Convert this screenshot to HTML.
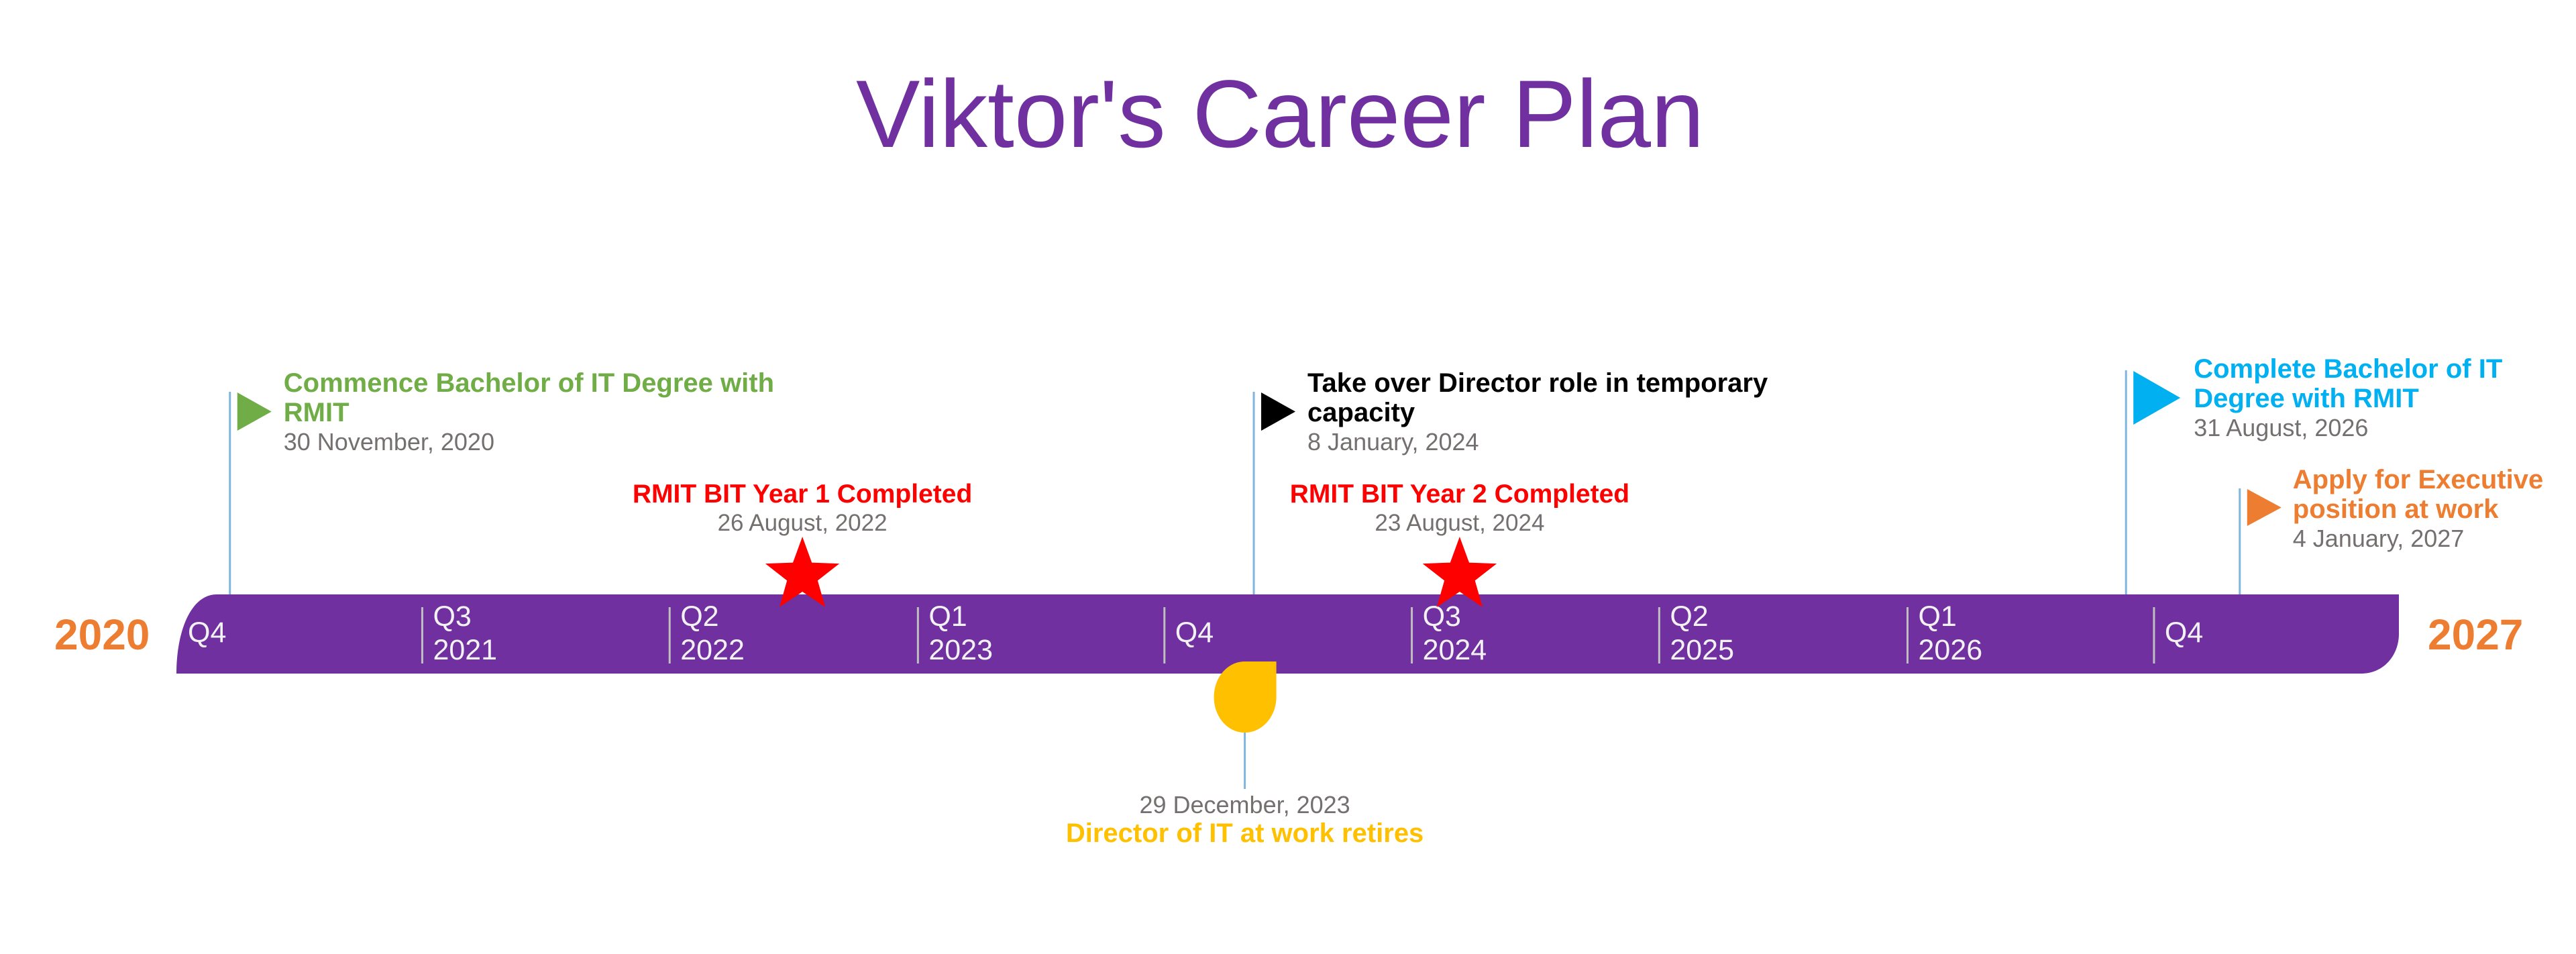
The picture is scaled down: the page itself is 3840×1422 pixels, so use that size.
<!DOCTYPE html>
<html><head><meta charset="utf-8"><style>
html,body{margin:0;padding:0;background:#fff;}
svg{display:block;font-family:"Liberation Sans",Arial,sans-serif;}
</style></head><body>
<svg id="chart" width="3840" height="1422" viewBox="0 0 3840 1422" xmlns="http://www.w3.org/2000/svg">
<text x="1276" y="219" font-size="143" fill="#7030A0">Viktor's Career Plan</text>
<path d="M263,1004 C263,940 285,886 323,886 L3576,886 L3576,945 C3576,975 3555,1004 3519,1004 Z" fill="#7030A0"/>
<text x="81" y="968" font-size="64" font-weight="bold" fill="#ED7D31">2020</text>
<text x="3619" y="968" font-size="64" font-weight="bold" fill="#ED7D31">2027</text>
<g id="ticks"></g>
<g id="events"></g>
</svg>
<script>
const tickQuarters = ["Q4","Q3","Q2","Q1","Q4","Q3","Q2","Q1","Q4"];
const tickYears = ["","2021","2022","2023","","2024","2025","2026",""];
const tickDates = ["2020-10-01","2021-07-01","2022-04-01","2023-01-01","2023-10-01","2024-07-01","2025-04-01","2026-01-01","2026-10-01"];

const flagTitles = [["Commence Bachelor of IT Degree with","RMIT"],["Take over Director role in temporary","capacity"],["Complete Bachelor of IT","Degree with RMIT"],["Apply for Executive","position at work"]];
const flagDates = ["2020-11-30","2024-01-08","2026-08-31","2027-01-04"];
const flagLabels = ["30 November, 2020","8 January, 2024","31 August, 2026","4 January, 2027"];
const flagColors = ["#70AD47","#000000","#00B0F0","#ED7D31"];
const flagTops = [584,584,552,728];

const starTitles = ["RMIT BIT Year 1 Completed","RMIT BIT Year 2 Completed"];
const starDates = ["2022-08-26","2024-08-23"];
const starLabels = ["26 August, 2022","23 August, 2024"];

const dropTitles = ["Director of IT at work retires"];
const dropDates = ["2023-12-29"];
const dropLabels = ["29 December, 2023"];

const NS="http://www.w3.org/2000/svg";
const t0=Date.UTC(2020,9,1), pxPerDay=491.6/365.25, x0=262;
function xScale(d){const p=d.split('-').map(Number);return x0+(Date.UTC(p[0],p[1]-1,p[2])-t0)/86400000*pxPerDay;}
function mk(tag,attrs,parent,txt){const e=document.createElementNS(NS,tag);for(const k in attrs)e.setAttribute(k,attrs[k]);if(txt!==undefined)e.textContent=txt;parent.appendChild(e);return e;}

const tg=document.getElementById('ticks');
tickDates.forEach((d,i)=>{
  const x=xScale(d);
  if(i>0){const l=mk('line',{x1:x,x2:x,y1:905,y2:989,stroke:'#BFBFBF','stroke-width':3},tg);
    
    }
  if(tickYears[i]){
    const a=mk('text',{x:x+16,y:933,'font-size':43,fill:'#F2F2F2'},tg,tickQuarters[i]);
    
    
    const b=mk('text',{x:x+16,y:983,'font-size':43,fill:'#F2F2F2'},tg,tickYears[i]);
    
    
  } else {
    const a=mk('text',{x:x+(i===0?18:16),y:957,'font-size':43,fill:'#F2F2F2'},tg,tickQuarters[i]);
    
    
  }
});

const eg=document.getElementById('events');
flagDates.forEach((d,i)=>{
  const x=xScale(d), top=flagTops[i];
  const g=mk('g',{},eg);
  
  
  mk('line',{x1:x,x2:x,y1:top,y2:886,stroke:'#7EB6E0','stroke-width':3},g);
  const h=i===2?80:(i===3?55:57), w=i===2?70:51;
  mk('path',{d:`M${x+11},${top+1} L${x+11+w},${top+1+h/2} L${x+11},${top+1+h} Z`,fill:flagColors[i]},g);
  const tx=x+(i===2?101:(i===3?79:80));
  const base=i===2?563:(i===3?728:584);
  flagTitles[i].forEach((ln,j)=>{mk('text',{x:tx,y:base+j*44,'font-size':40,'font-weight':'bold',fill:flagColors[i]},g,ln);});
  mk('text',{x:tx,y:base+2*44-1,'font-size':36,fill:'#757070'},g,flagLabels[i]);
});

function starPath(cx,cy,R,r){let p='';for(let k=0;k<10;k++){const a=-Math.PI/2+k*Math.PI/5,rr=k%2?r:R;p+=(k?'L':'M')+(cx+rr*Math.cos(a)).toFixed(1)+','+(cy+rr*Math.sin(a)).toFixed(1);}return p+'Z';}
starDates.forEach((d,i)=>{
  const x=xScale(d);
  const g=mk('g',{},eg);
  
  
  mk('path',{d:starPath(x,858,58,24),fill:'#FF0000'},g);
  mk('text',{x:x,y:749,'font-size':39,'font-weight':'bold',fill:'#FF0000','text-anchor':'middle'},g,starTitles[i]);
  mk('text',{x:x,y:791,'font-size':35,fill:'#757070','text-anchor':'middle'},g,starLabels[i]);
});

dropDates.forEach((d,i)=>{
  const x=xScale(d);
  const g=mk('g',{},eg);
  
  
  mk('line',{x1:x,x2:x,y1:1090,y2:1176,stroke:'#7EB6E0','stroke-width':3},g);
  const l=x-46,r=x+47;
  mk('path',{d:`M${x},986 L${r},986 L${r},1039 C${r},1068 ${x+26},1092 ${x},1092 C${x-26},1092 ${l},1068 ${l},1039 C${l},1010 ${x-26},986 ${x},986 Z`,fill:'#FFC000'},g);
  mk('text',{x:x,y:1212,'font-size':36,fill:'#757070','text-anchor':'middle'},g,dropLabels[i]);
  mk('text',{x:x,y:1255,'font-size':40,'font-weight':'bold',fill:'#FFC000','text-anchor':'middle'},g,dropTitles[i]);
});
</script>
</body></html>
